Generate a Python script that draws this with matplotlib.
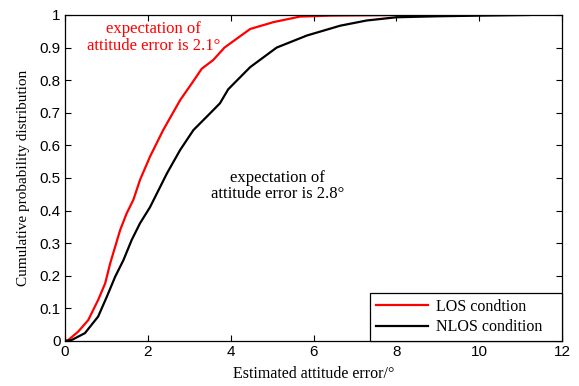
import numpy as np
import matplotlib
matplotlib.use('Agg')
import matplotlib.pyplot as plt

# CDF of attitude error, read as (error in degrees, cumulative probability)
los_err = [0.0, 0.08, 0.32, 0.56, 0.80, 0.97, 1.09, 1.21, 1.33, 1.49, 1.65, 1.81,
           2.05, 2.37, 2.78, 3.06, 3.3, 3.58, 3.85, 4.47, 5.03, 5.67, 6.4, 8.13]
los_cdf = [0.0, 0.003, 0.029, 0.064, 0.126, 0.177, 0.238, 0.289, 0.34, 0.392, 0.433, 0.494,
           0.565, 0.647, 0.739, 0.79, 0.835, 0.862, 0.9, 0.957, 0.978, 0.995, 0.998, 1.0]

nlos_err = [0.0, 0.16, 0.48, 0.80, 1.01, 1.21, 1.41, 1.61, 1.81, 2.05, 2.46, 2.78,
            3.1, 3.5, 3.74, 3.94, 4.47, 5.11, 5.84, 6.64, 7.28, 8.0, 9.0, 10.0, 11.2]
nlos_cdf = [0.0, 0.003, 0.024, 0.075, 0.136, 0.197, 0.248, 0.31, 0.361, 0.41, 0.514, 0.586,
            0.647, 0.698, 0.729, 0.772, 0.84, 0.9, 0.937, 0.967, 0.983, 0.993, 0.996, 0.998, 1.0]

xticks = [0, 2, 4, 6, 8, 10, 12]
yticks = [0, 0.1, 0.2, 0.3, 0.4, 0.5, 0.6, 0.7, 0.8, 0.9, 1]

SERIF = ['Liberation Serif', 'DejaVu Serif']
SANS = ['Liberation Sans', 'DejaVu Sans']

fig = plt.figure(figsize=(5.79, 3.86), dpi=100)
ax = fig.add_axes([0.1123, 0.1166, 0.8584, 0.8446])

ax.plot(los_err, los_cdf, color='#ff0000', lw=1.6, label='LOS condtion')
ax.plot(nlos_err, nlos_cdf, color='black', lw=1.6, label='NLOS condition')

ax.set_xlim(0, 12)
ax.set_ylim(0, 1)
ax.set_xticks(xticks)
ax.set_yticks(yticks)
ax.set_xticklabels([f'{t:g}' for t in xticks], family=SANS, fontsize=11)
ax.set_yticklabels([f'{t:g}' for t in yticks], family=SANS, fontsize=11)
ax.tick_params(direction='in', length=4, width=0.8, top=True, right=True, pad=3)
for s in ax.spines.values():
    s.set_linewidth(0.9)

ax.set_xlabel('Estimated attitude error/°', family=SERIF, fontsize=11.5, labelpad=5)
ax.set_ylabel('Cumulative probability distribution', family=SERIF, fontsize=11, labelpad=7)

ax.text(2.14, 0.93, 'expectation of\nattitude error is 2.1°', color='#ff0000',
        family=SERIF, fontsize=12, ha='center', va='center', linespacing=1.05)
ax.text(5.13, 0.475, 'expectation of\nattitude error is 2.8°', color='black',
        family=SERIF, fontsize=12, ha='center', va='center', linespacing=1.05)

# legend box stretched to the wider frame in the lower-right corner
leg = ax.legend(loc='lower left', bbox_to_anchor=(0.6137, 0.0, 0.3863, 0.147), mode='expand',
                prop={'family': SERIF, 'size': 11.5},
                fancybox=False, framealpha=1, edgecolor='black', borderaxespad=0,
                handlelength=3.3, borderpad=0.35, labelspacing=0.3, handletextpad=0.45)
leg.get_frame().set_linewidth(0.9)

fig.savefig('out.png', dpi=100)
